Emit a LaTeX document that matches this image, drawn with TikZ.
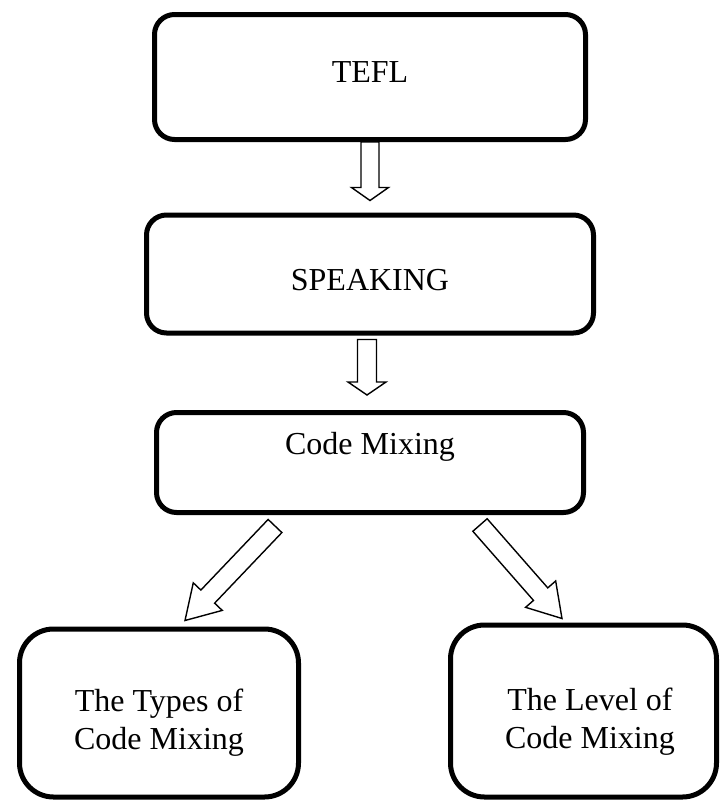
\documentclass[tikz,border=0pt]{standalone}
\usepackage{fontspec}
\setmainfont{Liberation Serif}
\usepackage{tikz}
\usetikzlibrary{positioning,calc}

% hollow block arrow: from, to, half shaft, half head, head length
\newcommand{\blockarrow}[5]{%
	\draw[hollow] ($(#1)!#3!90:(#2)$) -- ($(#2)!#5!(#1)!#3!90:(#2)$) -- ($(#2)!#5!(#1)!#4!90:(#2)$) -- (#2)
		-- ($(#2)!#5!(#1)!#4!-90:(#2)$) -- ($(#2)!#5!(#1)!#3!-90:(#2)$) -- ($(#1)!#3!-90:(#2)$) -- cycle;}

\begin{document}
\begin{tikzpicture}[x=0.5pt,y=-0.5pt,font=\fontsize{16}{19}\selectfont]
	\tikzstyle{block}=[draw,line width=2.5pt,rounded corners=10pt,align=center]
	\tikzstyle{bigblock}=[block,rounded corners=17pt]
	\tikzstyle{hollow}=[draw,line width=0.7pt,fill=white,line join=miter]
	\useasboundingbox (0,0) rectangle (723,800);
		\node[block,minimum width=215.5pt,minimum height=62.5pt,text depth=5pt] (tefl) at (370,77) {TEFL};
		\node[block,minimum width=223.5pt,minimum height=59pt,text height=17pt] (speak) [below=35.25pt of tefl] {SPEAKING};
		\node[block,minimum width=213.5pt,minimum height=50pt,text depth=19pt] (cmix) [below=37.25pt of speak] {Code Mixing};
		\node[bigblock,minimum width=139.5pt,minimum height=84pt] (types) at (159,713) {\rule{0pt}{21pt}The Types of\\Code Mixing};
		\node[bigblock,minimum width=133pt,minimum height=86pt] (level) at (583.5,711) {\rule{0pt}{22pt}\hspace{6.5pt}The Level of\\\hspace{6.5pt}Code Mixing};
			\blockarrow{tefl.south}{$(speak.north)+(0pt,6pt)$}{4.5pt}{9.25pt}{6.5pt}
			\blockarrow{$(speak.south)+(-1.5pt,-2pt)$}{$(cmix.north)+(-1.5pt,7.5pt)$}{4.75pt}{9.5pt}{6.5pt}
			\blockarrow{$(cmix.south)+(-47.5pt,-5.5pt)$}{$(types.north)+(13pt,3pt)$}{4.75pt}{10pt}{16.5pt}
			\blockarrow{$(cmix.south)+(55pt,-5pt)$}{$(level.north)+(-10.75pt,2pt)$}{4.75pt}{10pt}{16.2pt}
\end{tikzpicture}
\end{document}
